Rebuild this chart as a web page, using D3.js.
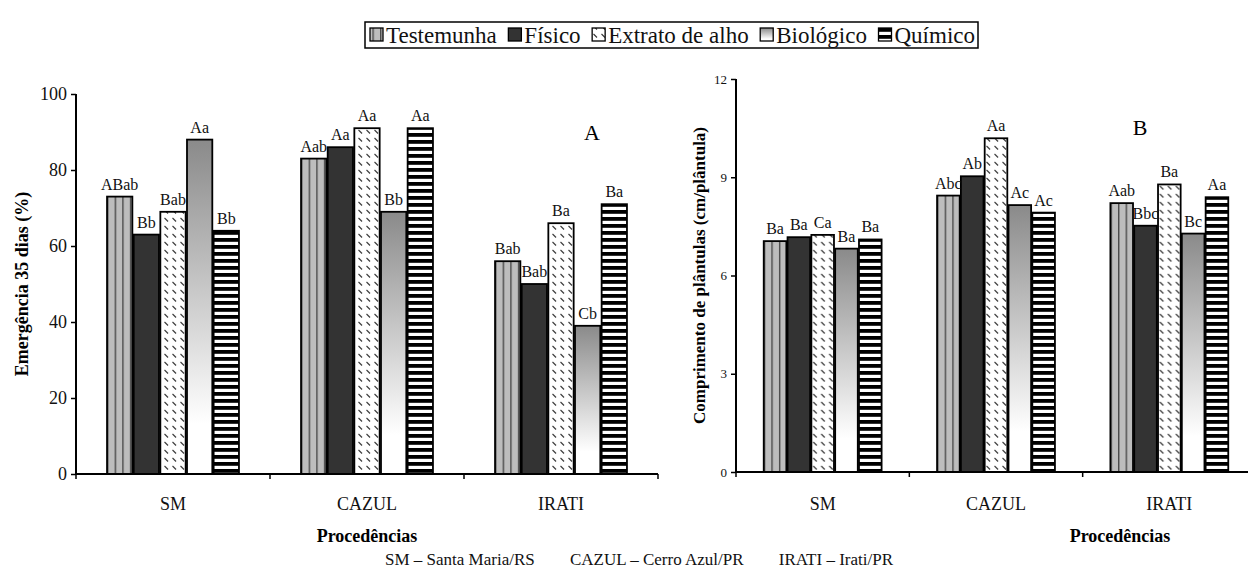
<!DOCTYPE html>
<html>
<head>
<meta charset="utf-8">
<script src="https://cdn.jsdelivr.net/npm/d3@7"></script>
<style>
  body { margin: 0; background: #fff; }
  svg { display: block; font-family: "Liberation Serif", "Times New Roman", serif; }
</style>
</head>
<body>
<svg id="chart" width="1248" height="581"></svg>
<script>
const procedencias = ['SM', 'CAZUL', 'IRATI'];
const tratamentos = ['Testemunha', 'Físico', 'Extrato de alho', 'Biológico', 'Químico'];

// Emergência 35 dias (%) - painel A
const emergencia = [
    [73, 63, 69, 88, 64],
    [83, 86, 91, 69, 91],
    [56, 50, 66, 39, 71]
];
const emergenciaLetras = [
    ['ABab', 'Bb', 'Bab', 'Aa', 'Bb'],
    ['Aab', 'Aa', 'Aa', 'Bb', 'Aa'],
    ['Bab', 'Bab', 'Ba', 'Cb', 'Ba']
];
const emergenciaTicks = [0, 20, 40, 60, 80, 100];

// Comprimento de plântulas (cm/plântula) - painel B
const comprimento = [
    [7.05, 7.17, 7.24, 6.82, 7.10],
    [8.44, 9.03, 10.19, 8.15, 7.92],
    [8.21, 7.52, 8.78, 7.28, 8.39]
];
const comprimentoLetras = [
    ['Ba', 'Ba', 'Ca', 'Ba', 'Ba'],
    ['Abc', 'Ab', 'Aa', 'Ac', 'Ac'],
    ['Aab', 'Bbc', 'Ba', 'Bc', 'Aa']
];
const comprimentoTicks = [0, 3, 6, 9, 12];

const legenda = ['SM – Santa Maria/RS', 'CAZUL – Cerro Azul/PR', 'IRATI – Irati/PR'];

const svg = d3.select('#chart');
const defs = svg.append('defs');

// patterns
const pTest = defs.append('pattern').attr('id', 'p0').attr('patternUnits', 'userSpaceOnUse')
    .attr('width', 7.6).attr('height', 10);
pTest.append('rect').attr('width', 7.6).attr('height', 10).attr('fill', '#bdbdbd');
pTest.append('rect').attr('x', 0).attr('width', 1.4).attr('height', 10).attr('fill', '#4a4a4a');

const pExt = defs.append('pattern').attr('id', 'p2').attr('patternUnits', 'userSpaceOnUse')
    .attr('width', 8).attr('height', 8);
pExt.append('rect').attr('width', 8).attr('height', 8).attr('fill', '#fff');
pExt.append('line').attr('x1', 1.5).attr('y1', 2).attr('x2', 5).attr('y2', 5.5)
    .attr('stroke', '#333').attr('stroke-width', 1.1);

const grad = defs.append('linearGradient').attr('id', 'p3')
    .attr('x1', 0).attr('y1', 0).attr('x2', 0).attr('y2', 1);
grad.append('stop').attr('offset', '0%').attr('stop-color', '#8a8a8a');
grad.append('stop').attr('offset', '85%').attr('stop-color', '#ffffff');
grad.append('stop').attr('offset', '100%').attr('stop-color', '#ffffff');

const pQui = defs.append('pattern').attr('id', 'p4').attr('patternUnits', 'userSpaceOnUse')
    .attr('width', 10).attr('height', 7);
pQui.append('rect').attr('width', 10).attr('height', 7).attr('fill', '#fff');
pQui.append('rect').attr('y', 0).attr('width', 10).attr('height', 3.8).attr('fill', '#000');

const fills = ['url(#p0)', '#333333', 'url(#p2)', 'url(#p3)', 'url(#p4)'];

function painel(cfg) {
    const g = svg.append('g');

    const x0 = d3.scaleBand().domain(procedencias).range(cfg.xRange)
        .paddingInner(0.32).paddingOuter(0.16);
    const x1 = d3.scaleBand().domain(tratamentos).range([0, x0.bandwidth()]).paddingInner(0.05);
    const y = d3.scaleLinear().domain(cfg.domain).range(cfg.yRange);

    const grupos = g.selectAll('.grupo')
        .data(procedencias)
        .enter()
        .append('g')
        .attr('transform', d => `translate(${x0(d)},0)`);

    grupos.selectAll('rect')
        .data((p, i) => tratamentos.map((t, j) => ({ t: t, j: j, v: cfg.values[i][j], l: cfg.letras[i][j] })))
        .enter()
        .append('rect')
        .attr('x', d => x1(d.t))
        .attr('y', d => y(d.v))
        .attr('width', x1.bandwidth())
        .attr('height', d => y(0) - y(d.v))
        .attr('fill', d => fills[d.j])
        .attr('stroke', '#000')
        .attr('stroke-width', 1.8);

    grupos.selectAll('text')
        .data((p, i) => tratamentos.map((t, j) => ({ t: t, v: cfg.values[i][j], l: cfg.letras[i][j] })))
        .enter()
        .append('text')
        .attr('x', d => x1(d.t) + x1.bandwidth() / 2)
        .attr('y', d => y(d.v) - 7)
        .attr('text-anchor', 'middle')
        .attr('font-size', '16px')
        .attr('fill', '#111')
        .text(d => d.l);

    // y axis
    const yAxis = g.append('g')
        .attr('transform', `translate(${cfg.xRange[0]},0)`)
        .call(d3.axisLeft(y).tickValues(cfg.ticks).tickSize(5).tickPadding(4));
    yAxis.select('.domain').attr('stroke-width', 2).attr('d', `M0,${y(cfg.domain[0])}V${y(cfg.domain[1])}`);
    yAxis.selectAll('.tick line').attr('stroke-width', 1.5);
    yAxis.selectAll('.tick text').attr('font-size', cfg.tickFont).attr('font-family', 'Liberation Serif').attr('fill', '#111');

    // x axis
    const base = y(0);
    g.append('line')
        .attr('x1', cfg.xRange[0]).attr('x2', cfg.xRange[1])
        .attr('y1', base).attr('y2', base)
        .attr('stroke', '#000').attr('stroke-width', 2);
    g.selectAll('.xtick')
        .data(d3.range(procedencias.length + 1))
        .enter()
        .append('line')
        .attr('x1', i => cfg.xRange[0] + i * x0.step())
        .attr('x2', i => cfg.xRange[0] + i * x0.step())
        .attr('y1', base).attr('y2', base + 5)
        .attr('stroke', '#000').attr('stroke-width', 1.5);
    g.selectAll('.xlab')
        .data(procedencias)
        .enter()
        .append('text')
        .attr('x', d => x0(d) + x0.bandwidth() / 2)
        .attr('y', 510)
        .attr('text-anchor', 'middle')
        .attr('font-size', '18px')
        .attr('fill', '#111')
        .text(d => d);

    g.append('text')
        .attr('x', cfg.xTitleX)
        .attr('y', 542)
        .attr('text-anchor', 'middle')
        .attr('font-size', '18px')
        .attr('font-weight', 'bold')
        .text('Procedências');

    g.append('text')
        .attr('transform', `translate(${cfg.yTitleX},${(cfg.yRange[0] + cfg.yRange[1]) / 2}) rotate(-90)`)
        .attr('text-anchor', 'middle')
        .attr('font-size', cfg.yTitleFont)
        .attr('font-weight', 'bold')
        .text(cfg.yTitle);

    g.append('text')
        .attr('x', cfg.painelPos[0])
        .attr('y', cfg.painelPos[1])
        .attr('text-anchor', 'middle')
        .attr('font-size', '22px')
        .text(cfg.painel);
}

painel({
    values: emergencia, letras: emergenciaLetras, ticks: emergenciaTicks,
    domain: [0, 100], xRange: [76, 658], yRange: [474, 94],
    tickFont: '18px', yTitle: 'Emergência 35 dias (%)', yTitleX: 28, yTitleFont: '18px',
    xTitleX: 367, painel: 'A', painelPos: [592, 140]
});

painel({
    values: comprimento, letras: comprimentoLetras, ticks: comprimentoTicks,
    domain: [0, 12], xRange: [736, 1256], yRange: [472, 79],
    tickFont: '13px', yTitle: 'Comprimento de plântulas (cm/plântula)', yTitleX: 705, yTitleFont: '17px',
    xTitleX: 1120, painel: 'B', painelPos: [1140, 135]
});

// legend: box 367..978, items spread to fill it
const leg = svg.append('g');
leg.append('rect')
    .attr('x', 365).attr('y', 22).attr('width', 613).attr('height', 26)
    .attr('fill', '#fff').attr('stroke', '#000').attr('stroke-width', 1.5);
const legItems = tratamentos.map(function(t, i) {
    const sw = leg.append('rect')
        .attr('y', 28).attr('width', 13).attr('height', 13)
        .attr('fill', fills[i]).attr('stroke', '#000').attr('stroke-width', 1.3);
    const txt = leg.append('text')
        .attr('y', 43)
        .attr('font-size', '23px')
        .attr('fill', '#111')
        .text(t);
    return { sw: sw, txt: txt, w: txt.node().getComputedTextLength() };
});
const legInner = 978 - 365 - 8;
const legUsed = d3.sum(legItems, d => 13 + 3 + d.w);
const legGap = (legInner - legUsed) / (legItems.length - 1);
let lx = 370;
legItems.forEach(function(d) {
    d.sw.attr('x', lx);
    d.txt.attr('x', lx + 16);
    lx += 16 + d.w + legGap;
});

// footer: three notes spread evenly between x=385 and x=893
const footer = svg.selectAll('.footer')
    .data(legenda)
    .enter()
    .append('text')
    .attr('y', 565)
    .attr('font-size', '17px')
    .attr('fill', '#111')
    .text(d => d);
const fw = footer.nodes().map(n => n.getComputedTextLength());
const fGap = (893 - 385 - d3.sum(fw)) / (fw.length - 1);
let fx = 385;
footer.each(function(d, i) {
    d3.select(this).attr('x', fx);
    fx += fw[i] + fGap;
});
</script>
</body>
</html>
